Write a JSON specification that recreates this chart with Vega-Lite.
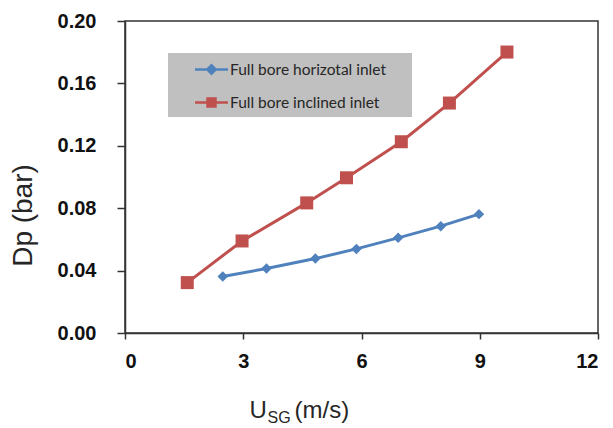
{
  "$schema": "https://vega.github.io/schema/vega-lite/v6.json",
  "width": 473,
  "height": 312,
  "autosize": "none",
  "padding": {"left": 125, "top": 21, "right": 15, "bottom": 95},
  "background": "white",
  "config": {
    "view": {"stroke": "#333333", "strokeWidth": 1.5},
    "font": "Liberation Sans",
    "axis": {
      "grid": false,
      "domainColor": "#333333",
      "domainWidth": 1.5,
      "tickColor": "#333333",
      "tickWidth": 1.5,
      "labelFont": "Liberation Sans",
      "labelFontWeight": "bold",
      "labelFontSize": 20,
      "labelColor": "#111111",
      "titleFont": "Liberation Sans",
      "titleFontWeight": "normal",
      "titleColor": "#262626"
    }
  },
  "data": {
    "values": [
      {"series": "Full bore horizotal inlet", "usg": 2.48, "dp": 0.0362},
      {"series": "Full bore horizotal inlet", "usg": 3.59, "dp": 0.0413},
      {"series": "Full bore horizotal inlet", "usg": 4.83, "dp": 0.0477},
      {"series": "Full bore horizotal inlet", "usg": 5.87, "dp": 0.0539},
      {"series": "Full bore horizotal inlet", "usg": 6.93, "dp": 0.061},
      {"series": "Full bore horizotal inlet", "usg": 8.01, "dp": 0.0685},
      {"series": "Full bore horizotal inlet", "usg": 8.98, "dp": 0.0762},
      {"series": "Full bore inclined inlet", "usg": 1.58, "dp": 0.0323},
      {"series": "Full bore inclined inlet", "usg": 2.97, "dp": 0.059},
      {"series": "Full bore inclined inlet", "usg": 4.61, "dp": 0.0834},
      {"series": "Full bore inclined inlet", "usg": 5.62, "dp": 0.0995},
      {"series": "Full bore inclined inlet", "usg": 7.01, "dp": 0.1226},
      {"series": "Full bore inclined inlet", "usg": 8.23, "dp": 0.1474},
      {"series": "Full bore inclined inlet", "usg": 9.69, "dp": 0.1801}
    ]
  },
  "resolve": {"axis": {"x": "independent"}},
  "layer": [
    {
      "mark": {"type": "line", "strokeWidth": 3},
      "encoding": {
        "x": {
          "field": "usg", "type": "quantitative",
          "scale": {"domain": [0, 12], "nice": false},
          "axis": {
            "orient": "bottom",
            "values": [0, 3, 6, 9, 12],
            "tickSize": 6,
            "labelPadding": 12,
            "title": "U",
            "titleFontSize": 24,
            "titleAnchor": "start",
            "titleAlign": "left",
            "titleBaseline": "alphabetic",
            "titleX": 124,
            "titleY": 84
          }
        },
        "y": {
          "field": "dp", "type": "quantitative",
          "scale": {"domain": [0, 0.2], "nice": false},
          "axis": {
            "values": [0, 0.04, 0.08, 0.12, 0.16, 0.2],
            "format": ".2f",
            "tickSize": 8,
            "labelPadding": 21,
            "title": "Dp (bar)",
            "titleFontSize": 28,
            "titleY": 194,
            "titlePadding": 20
          }
        },
        "color": {
          "field": "series", "type": "nominal",
          "scale": {"range": ["#4f81bd", "#c0504d"]},
          "legend": {
            "title": "\u00a0",
            "titleOrient": "right",
            "titlePadding": 21,
            "titleFontSize": 2,
            "orient": "none",
            "legendX": 43,
            "legendY": 32,
            "fillColor": "#c0c0c0",
            "padding": 5,
            "symbolSize": 400,
            "symbolOffset": 27,
            "symbolStrokeWidth": 2.5,
            "labelOffset": 7,
            "labelFont": "Lato",
            "labelFontSize": 15.5,
            "labelColor": "#262626",
            "rowPadding": 12,
            "encode": {
              "symbols": {
                "update": {
                  "shape": {"signal": "datum.value === 'Full bore horizotal inlet' ? 'M-1.65,0H1.65M-0.42,0L0,-0.42L0.42,0L0,0.42Z' : 'M-1.65,0H1.65M-0.4,-0.4H0.4V0.4H-0.4Z'"},
                  "fill": {"signal": "scale('color', datum.value)"},
                  "stroke": {"signal": "scale('color', datum.value)"},
                  "strokeWidth": {"value": 2.5},
                  "opacity": {"value": 1}
                }
              }
            }
          }
        }
      }
    },
    {
      "transform": [{"filter": "datum.series === 'Full bore horizotal inlet'"}],
      "mark": {"type": "point", "filled": true, "opacity": 1, "shape": "diamond", "size": 110},
      "encoding": {
        "x": {
          "field": "usg", "type": "quantitative",
          "axis": {
            "orient": "bottom",
            "labels": false, "ticks": false, "domain": false,
            "title": "SG",
            "titleFontSize": 16,
            "titleAnchor": "start",
            "titleAlign": "left",
            "titleBaseline": "alphabetic",
            "titleX": 142,
            "titleY": 89
          }
        },
        "y": {"field": "dp", "type": "quantitative"},
        "color": {"field": "series", "type": "nominal", "legend": null}
      }
    },
    {
      "transform": [{"filter": "datum.series === 'Full bore inclined inlet'"}],
      "mark": {"type": "point", "filled": true, "opacity": 1, "shape": "square", "size": 169},
      "encoding": {
        "x": {
          "field": "usg", "type": "quantitative",
          "axis": {
            "orient": "bottom",
            "labels": false, "ticks": false, "domain": false,
            "title": "(m/s)",
            "titleFontSize": 24,
            "titleAnchor": "start",
            "titleAlign": "left",
            "titleBaseline": "alphabetic",
            "titleX": 169,
            "titleY": 84
          }
        },
        "y": {"field": "dp", "type": "quantitative"},
        "color": {"field": "series", "type": "nominal", "legend": null}
      }
    }
  ]
}
